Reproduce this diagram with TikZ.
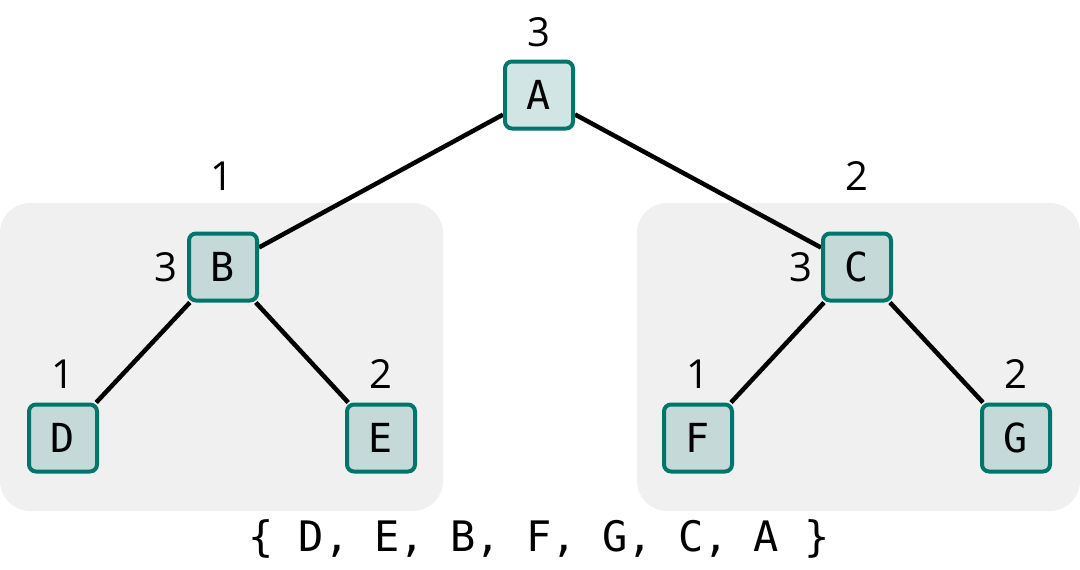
\documentclass[tikz,border=0pt]{standalone}
\usepackage{fontspec}
\setmainfont{Open Sans}
\newfontfamily\boxfont{DejaVu Sans Mono}
\usetikzlibrary{backgrounds}
\definecolor{tealline}{RGB}{0,117,107}
\definecolor{grpgray}{RGB}{240,240,240}

\begin{document}
\begin{tikzpicture}[x=1pt, y=-1pt,
  tnode/.style={draw=tealline, line width=4pt, rounded corners=7pt, minimum width=68pt, minimum height=67pt, inner sep=0pt,
    fill=tealline, fill opacity=0.18, text opacity=1, font=\boxfont\fontsize{40}{44}\selectfont},
  group/.style={fill=grpgray, rounded corners=30pt, minimum width=443pt, minimum height=308pt, inner sep=0pt},
  cnt/.style={inner sep=0pt, font=\fontsize{40}{44}\selectfont},
  edge/.style={line width=4.5pt}
]
\useasboundingbox (0,0) rectangle (1080,570);

% tree nodes
\node[tnode] (A) at (539,95) {A};
\node[tnode] (B) at (223,267) {B};
\node[tnode] (C) at (857,267) {C};
\node[tnode] (D) at (63,438) {D};
\node[tnode] (E) at (381,438) {E};
\node[tnode] (F) at (698,438) {F};
\node[tnode] (G) at (1016,438) {G};

% counts
\node[cnt] (nA) at (539,32) {3};
\node[cnt] (nB) at (222,176) {1};
\node[cnt] (nC) at (857,176) {2};
\node[cnt] (sB) at (166,267) {3};
\node[cnt] (sC) at (801,267) {3};
\node[cnt] (nD) at (63,374) {1};
\node[cnt] (nE) at (381,374) {2};
\node[cnt] (nF) at (698,374) {1};
\node[cnt] (nG) at (1016,374) {2};

% order
\node[inner sep=0pt, font=\boxfont\fontsize{42}{46}\selectfont] (order) at (539,539) {\{ D, E, B, F, G, C, A \}};

\begin{scope}[on background layer]
  \node[group] (grpL) at (221.5,357) {};
  \node[group] (grpR) at (858.5,357) {};
  \draw[edge] (A) -- (B);
  \draw[edge] (A) -- (C);
  \draw[edge] (B) -- (D);
  \draw[edge] (B) -- (E);
  \draw[edge] (C) -- (F);
  \draw[edge] (C) -- (G);
\end{scope}
\end{tikzpicture}
\end{document}
